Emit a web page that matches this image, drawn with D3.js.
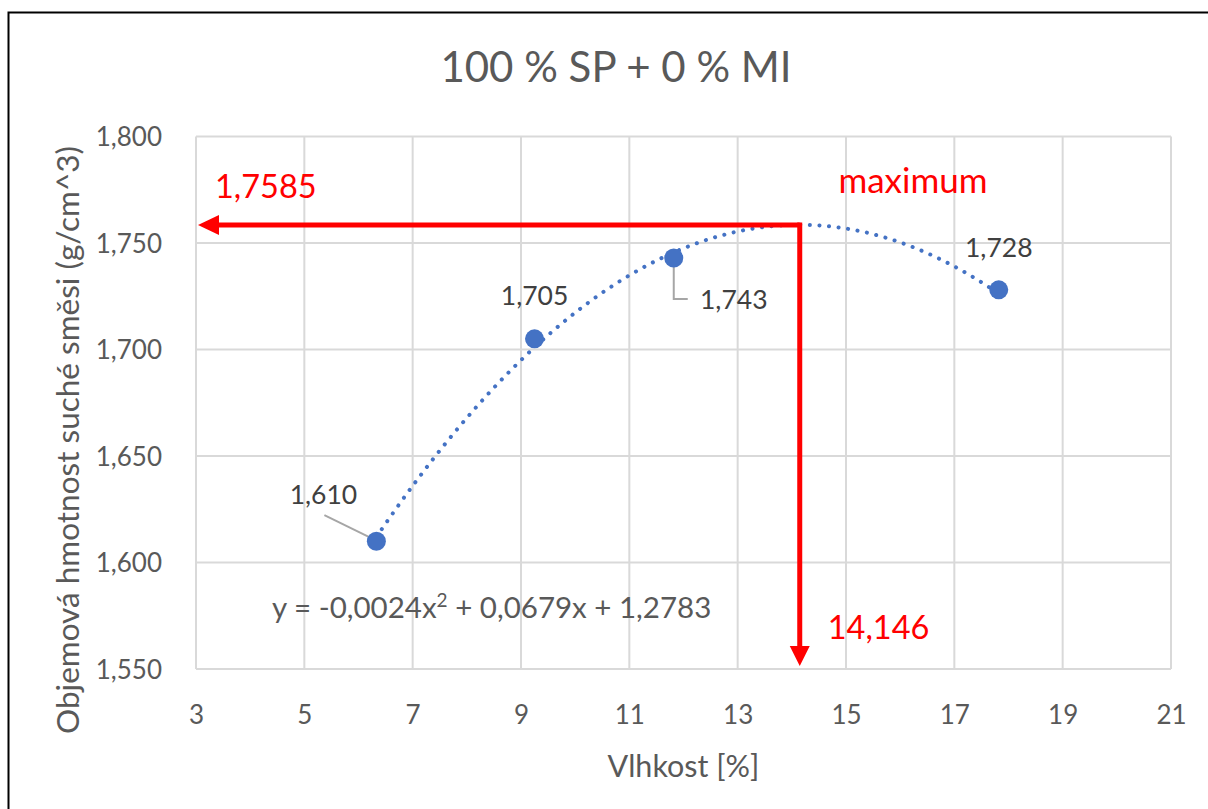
<!DOCTYPE html>
<html>
<head>
<meta charset="utf-8">
<script src="https://cdn.jsdelivr.net/npm/d3@7"></script>
<style>
  html, body { margin: 0; padding: 0; background: #fff; }
  svg { display: block; font-family: Lato, "Open Sans", sans-serif; }
</style>
</head>
<body>
<svg id="chart" width="1208" height="809"></svg>
<script>
// Measured points: moisture [%] vs. dry bulk density [g/cm^3]
const moisture = [6.33, 9.25, 11.82, 17.82];
const density = [1.610, 1.705, 1.743, 1.728];
const densityLabels = ["1,610", "1,705", "1,743", "1,728"];

// Quadratic trendline coefficients (y = a x^2 + b x + c)
const trendCoef = [-0.0024, 0.0679, 1.2783];

// Maximum of the fitted curve
const maxMoisture = [14.146];
const maxDensity = [1.7585];
const maxLabels = ["14,146", "1,7585", "maximum"];

// Axis ticks
const xTicks = [3, 5, 7, 9, 11, 13, 15, 17, 19, 21];
const yTicks = [1.55, 1.60, 1.65, 1.70, 1.75, 1.80];

const titleText = "100 % SP + 0 % MI";
const xTitle = "Vlhkost [%]";
const yTitle = "Objemová hmotnost suché směsi (g/cm^3)";

const svg = d3.select("#chart");
const W = 1208, H = 809;
const plot = { left: 196, right: 1171, top: 136.5, bottom: 669 };

const x = d3.scaleLinear().domain([3, 21]).range([plot.left, plot.right]);
const y = d3.scaleLinear().domain([1.55, 1.80]).range([plot.bottom, plot.top]);
const fmtComma = (v, d) => v.toFixed(d).replace(".", ",");

// Outer chart border
svg.append("rect")
  .attr("x", 8.5).attr("y", 12.5)
  .attr("width", W + 20).attr("height", H + 20)
  .attr("fill", "#fff").attr("stroke", "#000").attr("stroke-width", 2);

const gridColor = "#d9d9d9";
const textGray = "#595959";

// Gridlines
svg.append("g").selectAll("line").data(xTicks).join("line")
  .attr("x1", d => x(d)).attr("x2", d => x(d))
  .attr("y1", plot.top).attr("y2", plot.bottom)
  .attr("stroke", gridColor).attr("stroke-width", 2);
svg.append("g").selectAll("line").data(yTicks).join("line")
  .attr("x1", plot.left).attr("x2", plot.right)
  .attr("y1", d => y(d)).attr("y2", d => y(d))
  .attr("stroke", gridColor).attr("stroke-width", 2);

// Axes (labels only; the lines are the gridlines)
const xAxis = d3.axisBottom(x).tickValues(xTicks).tickSize(0).tickPadding(0)
  .tickFormat(d => String(d));
const gx = svg.append("g").attr("transform", `translate(0,${plot.bottom})`).call(xAxis);
gx.select(".domain").remove();
gx.selectAll("text").attr("y", 55).attr("dy", null)
  .attr("fill", textGray).style("font-size", "26px").style("font-family", "Lato");

const yAxis = d3.axisLeft(y).tickValues(yTicks).tickSize(0).tickPadding(0)
  .tickFormat(d => fmtComma(d, 3));
const gy = svg.append("g").attr("transform", `translate(${plot.left},0)`).call(yAxis);
gy.select(".domain").remove();
gy.selectAll("text").attr("x", -34).attr("dy", "0.35em")
  .attr("fill", textGray).style("font-size", "26px").style("font-family", "Lato");

// Title
svg.append("text").attr("x", 616).attr("y", 82).attr("text-anchor", "middle")
  .attr("fill", textGray).style("font-size", "42px").text(titleText);

// Axis titles
svg.append("text").attr("x", (plot.left + plot.right) / 2).attr("y", 777)
  .attr("text-anchor", "middle").attr("fill", textGray).style("font-size", "30.5px").text(xTitle);
svg.append("text")
  .attr("transform", "translate(79,440) rotate(-90)")
  .attr("text-anchor", "middle").attr("fill", textGray).style("font-size", "31.5px").text(yTitle);

// Trendline (dotted)
const [a, b, c] = trendCoef;
const xs = d3.range(0, 201).map(i => moisture[0] + (moisture[3] - moisture[0]) * i / 200);
const trendLine = d3.line().x(d => x(d)).y(d => y(a * d * d + b * d + c));
svg.append("path").datum(xs).attr("d", trendLine)
  .attr("fill", "none").attr("stroke", "#4472C4").attr("stroke-width", 4)
  .attr("stroke-linecap", "round").attr("stroke-dasharray", "0.1 9.5");

// Leader lines for data labels
const leader = "#a6a6a6";
svg.append("path")
  .attr("d", `M${x(moisture[0]) - 3},${y(density[0]) - 2} L${x(moisture[0]) - 52},${y(density[0]) - 26}`)
  .attr("stroke", leader).attr("stroke-width", 2).attr("fill", "none");
svg.append("path")
  .attr("d", `M${x(moisture[2])},${y(density[2])} V${y(density[2]) + 41} H${x(moisture[2]) + 14}`)
  .attr("stroke", leader).attr("stroke-width", 2).attr("fill", "none");

// Markers
svg.append("g").selectAll("circle").data(moisture).join("circle")
  .attr("cx", d => x(d)).attr("cy", (d, i) => y(density[i])).attr("r", 9.5)
  .attr("fill", "#4472C4");

// Data labels
const labelOffsets = [[-53, -37], [0, -34], [60, 51], [0, -33]];
svg.append("g").selectAll("text").data(moisture).join("text")
  .attr("x", (d, i) => x(d) + labelOffsets[i][0])
  .attr("y", (d, i) => y(density[i]) + labelOffsets[i][1])
  .attr("text-anchor", "middle").attr("fill", "#404040").style("font-size", "26.5px")
  .text((d, i) => densityLabels[i]);

// Trendline equation
const eq = svg.append("text").attr("x", 272).attr("y", 618).attr("fill", "#595959")
  .style("font-size", "29.5px");
eq.append("tspan").text("y = -" + fmtComma(-a, 4) + "x");
eq.append("tspan").attr("dy", -11).style("font-size", "19px").text("2");
eq.append("tspan").attr("dy", 11).text(" + " + fmtComma(b, 4) + "x + " + fmtComma(c, 4));

// Red arrows marking the maximum
const red = "#ff0000";
const mx = x(maxMoisture[0]), my = y(maxDensity[0]);
svg.append("line").attr("x1", mx).attr("y1", my).attr("x2", plot.left + 20).attr("y2", my)
  .attr("stroke", red).attr("stroke-width", 5);
svg.append("path")
  .attr("d", `M${plot.left + 2},${my} L${plot.left + 23},${my - 10} L${plot.left + 23},${my + 10} Z`)
  .attr("fill", red);
svg.append("line").attr("x1", mx).attr("y1", my - 2.5).attr("x2", mx).attr("y2", plot.bottom - 20)
  .attr("stroke", red).attr("stroke-width", 5);
svg.append("path")
  .attr("d", `M${mx},${plot.bottom - 3} L${mx - 10},${plot.bottom - 23} L${mx + 10},${plot.bottom - 23} Z`)
  .attr("fill", red);

svg.append("text").attr("x", 215).attr("y", 198).attr("fill", red)
  .style("font-size", "32.5px").text(maxLabels[1]);
svg.append("text").attr("x", mx + 28).attr("y", 639).attr("fill", red)
  .style("font-size", "32.5px").text(maxLabels[0]);
svg.append("text").attr("x", 913).attr("y", 193).attr("text-anchor", "middle").attr("fill", red)
  .style("font-size", "35px").text(maxLabels[2]);
</script>
</body>
</html>
